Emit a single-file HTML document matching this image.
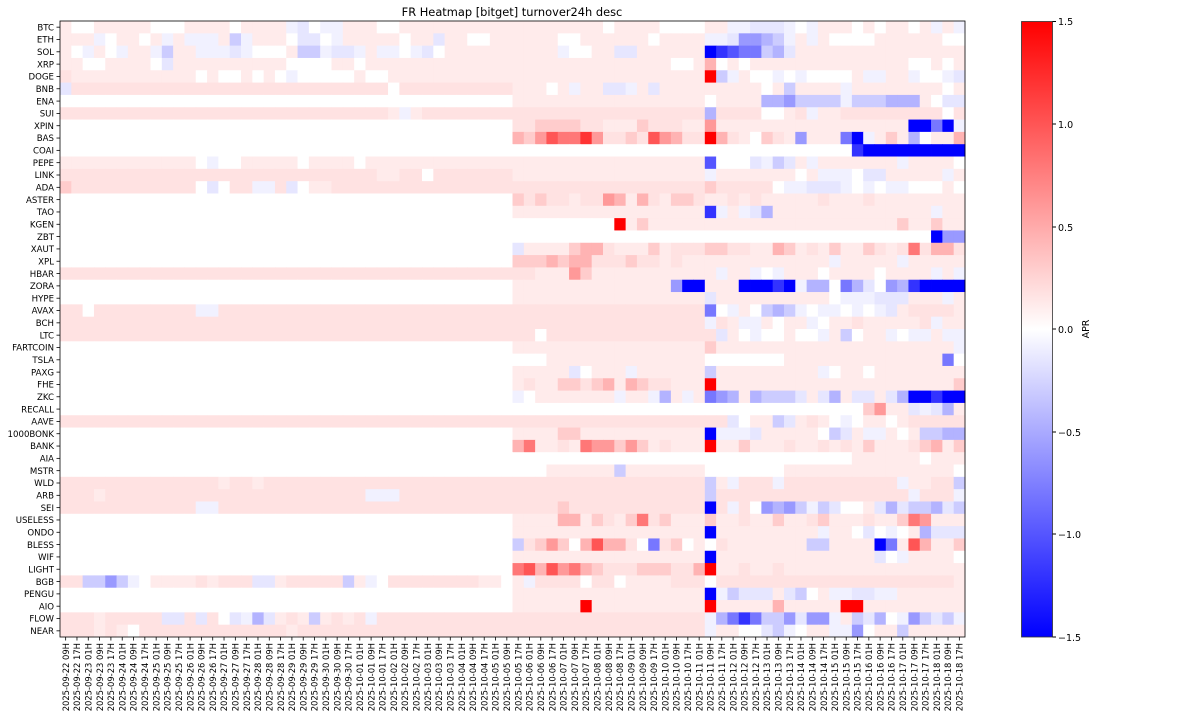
<!DOCTYPE html>
<html><head><meta charset="utf-8">
<style>
html,body{margin:0;padding:0;background:#fff;}
svg{display:block;font-family:"DejaVu Sans","Liberation Sans",sans-serif;}
</style></head>
<body>
<svg id="s" width="1200" height="720" xmlns="http://www.w3.org/2000/svg">
<text x="512" y="16" font-size="11.4" text-anchor="middle">FR Heatmap [bitget] turnover24h desc</text>
<defs>
<linearGradient id="cb" x1="0" y1="0" x2="0" y2="1">
<stop offset="0" stop-color="#ff0000"/><stop offset="0.5" stop-color="#ffffff"/><stop offset="1" stop-color="#0000ff"/>
</linearGradient>
</defs>
<g id="hm"></g>
<rect x="1021.5" y="21.5" width="31" height="615.5" fill="url(#cb)" stroke="#333" stroke-width="0.8"/>
<g font-size="9.5" fill="#000">
<line x1="1052.5" y1="21.5" x2="1056" y2="21.5" stroke="#000"/><text x="1058" y="25">1.5</text>
<line x1="1052.5" y1="124" x2="1056" y2="124" stroke="#000"/><text x="1058" y="128">1.0</text>
<line x1="1052.5" y1="227" x2="1056" y2="227" stroke="#000"/><text x="1058" y="231">0.5</text>
<line x1="1052.5" y1="329" x2="1056" y2="329" stroke="#000"/><text x="1058" y="333">0.0</text>
<line x1="1052.5" y1="432" x2="1056" y2="432" stroke="#000"/><text x="1058" y="436">−0.5</text>
<line x1="1052.5" y1="534" x2="1056" y2="534" stroke="#000"/><text x="1058" y="538">−1.0</text>
<line x1="1052.5" y1="637" x2="1056" y2="637" stroke="#000"/><text x="1058" y="641">−1.5</text>
<text x="1089" y="329" transform="rotate(-90 1089 329)" text-anchor="middle">APR</text>
</g>
</svg>
<script>
var dates=["2025-09-22 09H","2025-09-22 17H",
"2025-09-23 01H","2025-09-23 09H","2025-09-23 17H","2025-09-24 01H","2025-09-24 09H","2025-09-24 17H",
"2025-09-25 01H","2025-09-25 09H","2025-09-25 17H","2025-09-26 01H","2025-09-26 09H","2025-09-26 17H",
"2025-09-27 01H","2025-09-27 09H","2025-09-27 17H","2025-09-28 01H","2025-09-28 09H","2025-09-28 17H",
"2025-09-29 01H","2025-09-29 09H","2025-09-29 17H","2025-09-30 01H","2025-09-30 09H","2025-09-30 17H",
"2025-10-01 01H","2025-10-01 09H","2025-10-01 17H","2025-10-02 01H","2025-10-02 09H","2025-10-02 17H",
"2025-10-03 01H","2025-10-03 09H","2025-10-03 17H","2025-10-04 01H","2025-10-04 09H","2025-10-04 17H",
"2025-10-05 01H","2025-10-05 09H","2025-10-05 17H","2025-10-06 01H","2025-10-06 09H","2025-10-06 17H",
"2025-10-07 01H","2025-10-07 09H","2025-10-07 17H","2025-10-08 01H","2025-10-08 09H","2025-10-08 17H",
"2025-10-09 01H","2025-10-09 09H","2025-10-09 17H","2025-10-10 01H","2025-10-10 09H","2025-10-10 17H",
"2025-10-11 01H","2025-10-11 09H","2025-10-11 17H","2025-10-12 01H","2025-10-12 09H","2025-10-12 17H",
"2025-10-13 01H","2025-10-13 09H","2025-10-13 17H","2025-10-14 01H","2025-10-14 09H","2025-10-14 17H",
"2025-10-15 01H","2025-10-15 09H","2025-10-15 17H","2025-10-16 01H","2025-10-16 09H","2025-10-16 17H",
"2025-10-17 01H","2025-10-17 09H","2025-10-17 17H","2025-10-18 01H","2025-10-18 09H","2025-10-18 17H"];
var rows=[
["BTC","1",{1:"0",2:"0",8:"0",9:"0",10:"0",15:"0",20:"a",21:"b",22:"0",23:"a",24:"a",28:"0",29:"0"},"11111111011110000","11aabbba0a1110101101a1a"],
["ETH","1",{3:"a",4:"0",7:"0",9:"a",11:"a",12:"a",13:"a",15:"c",16:"a",20:"0",21:"b",22:"b",23:"0",24:"a",30:"0",33:"b",36:"0",37:"0"},"11110011111101111","aabeedca1a1000011111100"],
["SOL","1",{1:"0",2:"a",4:"0",5:"a",8:"a",9:"c",12:"a",13:"a",14:"a",15:"b",16:"a",17:"0",18:"0",19:"0",21:"c",22:"c",23:"a",24:"b",25:"b",26:"a",28:"a",29:"a",30:"0",31:"a",32:"b",33:"0"},"1111a0011bb111111","ihgffcdb111111111111111"],
["XRP","1",{2:"0",3:"0",8:"0",9:"b",20:"0",21:"0",22:"0",23:"0",26:"0"},"11111111111111001","40101111111111111100101"],
["DOGE","1",{0:"2",12:"0",14:"0",15:"0",17:"0",19:"0",20:"a",21:"0",22:"0",23:"0",24:"0",25:"0",27:"0",28:"0"},"11111111111111111","9ca100a0a00001aa11a00ab"],
["BNB","2",{0:"b",29:"0"},"11101a11bba1b1111","1111101c1111a1111111101"],
["ENA","0",{},"11111111111111111","01111ddeccccacccddd10bb"],
["SUI","2",{29:"1",30:"a",31:"1"},"22222222222222222","d22220012a1122222222202"],
["XPIN","0",{},"22333322111322211","511111111111111111iifia"],
["BAS","0",{},"43576685223275422","94210321e111fia131d0114"],
["COAI","0",{},"00000000000000000","0000000000000hiiiiiiiii"],
["PEPE","1",{12:"0",13:"a",14:"0",15:"0",21:"0",26:"0"},"11111111111111111","g000bacb1a1111111a11110"],
["LINK","2",{28:"1",29:"1",32:"0"},"11111111111111111","a111111101aaa0bb11111a1"],
["ADA","2",{0:"3",12:"0",13:"b",14:"0",17:"a",18:"a",20:"b",21:"0",22:"1",23:"1"},"22222222222222222","3222220aabbba0a0aa00010"],
["ASTER","0",{},"32322122541421332","11212111112111211111111"],
["TAO","0",{},"11111111111111111","ha1abd11111111111111a11"],
["KGEN","0",{},"00000000091311111","11111111111111111311311"],
["ZBT","0",{},"00000000000000000","00000000000000000000iee"],
["XAUT","0",{},"b1111344211131222","33221143121311321262442"],
["XPL","0",{},"33343442223221211","11111111111a11111a11111"],
["HBAR","2",{},"22111531111111111","1a11a0a1110111101111a1a"],
["ZORA","0",{},"11111111111111eii","111iiihiadd0fdb0edhiiii"],
["HYPE","0",{},"11111111111111111","b11111111110aaabbb111a1"],
["AVAX","2",{2:"0",12:"a",13:"a"},"22222222222222222","f0a10cdca0aa0a0ab122221"],
["BCH","2",{},"22222222222222222","a21aa1011a0112111112a11"],
["LTC","2",{},"22022222222222222","2b10a00100a1c011a0aa1aa"],
["FARTCOIN","0",{},"11111111111111111","3111111111111111111111a"],
["TSLA","0",{},"00011111111111111","000000011111111111111f0"],
["PAXG","0",{},"11111b0111a111111","c111111111a011011111111"],
["FHE","0",{},"12113323414322111","91111111111111111111113"],
["ZKC","0",{},"a01111111a11ad1a1","fed1dcccb1bd1bb1bdiihii"],
["RECALL","0",{},"00000000000000000","000000000000003511babd1"],
["AAVE","2",{},"22222222222222222","22b011cb1210a0110122222"],
["1000BONK","0",{},"11113311111111111","iaaab111110cb1aa101ccdd"],
["BANK","0",{},"46112165535312111","91131112112121311123413"],
["AIA","0",{},"00000000000000000","00000000000001111110111"],
["MSTR","0",{},"000111111c1111111","00000001111111111111110"],
["WLD","2",{14:"1",17:"1"},"22222222222222222","c1a222a2222222222a1122c"],
["ARB","2",{3:"1",27:"a",28:"a",29:"a"},"22222222222222222","c22222222222222222a222a"],
["SEI","2",{12:"a",13:"a"},"22223222222222222","i2a20edecacb001bdbccdbc"],
["USELESS","0",{},"11114413213623111","31121131123111211365111"],
["ONDO","0",{},"11111111111111111","i111111111a110b0a01dbbb"],
["BLESS","0",{},"c23530474420f2301","021111111cc1111if174113"],
["WIF","0",{},"11111111111111111","i11111111111111b0a11110b"],
["LIGHT","0",{},"67475643222333224","91121121111111111111111"],
["BGB","2",{2:"c",3:"c",4:"e",5:"c",6:"a",7:"0",8:"1",9:"1",10:"1",11:"1",13:"1",17:"b",18:"b",19:"1",25:"c",26:"1",27:"a",28:"0",37:"1",38:"1",39:"0"},"1a22220220111122211","02222222222222222222221"],
["PENGU","0",{},"11111111111111111","iacbbb1bc01aabbaa111111"],
["AIO","0",{},"11111191111111111","91111141111199111111111"],
["FLOW","2",{3:"1",9:"b",10:"b",12:"b",14:"0",15:"b",16:"a",17:"d",18:"b",19:"1",21:"1",22:"c",23:"1",25:"1",27:"a"},"22222222222222222","adfhfcceb eea1cbd0aecbca"],
["NEAR","2",{3:"1",5:"1",6:"0",20:"1"},"22222222222222222","a1100bca011aae011c11111"]
];
var V={"0":0,"1":0.12,"2":0.17,"3":0.3,"4":0.45,"5":0.6,"6":0.8,"7":1.0,"8":1.2,"9":1.5,
"a":-0.08,"b":-0.15,"c":-0.3,"d":-0.45,"e":-0.6,"f":-0.8,"g":-1.0,"h":-1.2,"i":-1.5," ":0};
function col(v){var t=(Math.max(-1.5,Math.min(1.5,v))+1.5)/3,r,g,b;
 if(t<0.5){r=g=2*t;b=1;}else{r=1;g=b=2*(1-t);}
 return "rgb("+Math.round(r*255)+","+Math.round(g*255)+","+Math.round(b*255)+")";}
var hm=document.getElementById("hm");
var X0=60,X1=965,Y0=21,Y1=637,CW=(X1-X0)/80,RH=(Y1-Y0)/50;
var html="";
rows.forEach(function(r,ri){
 var s="";for(var c=0;c<40;c++){s+=(r[2][c]!==undefined)?r[2][c]:r[1];}
 var A=(r[3].replace(/ /g,"")+"11111111111111111").substring(0,17);
 var B=r[4].replace(/ /g,"");B=(B+"11111111111111111111111").substring(0,23);
 s+=A+B;
 for(var c=0;c<80;c++){
  var v=V[s[c]];if(v===undefined)v=0;
  var x=X0+c*CW,y=Y0+ri*RH;
  html+='<rect x="'+x.toFixed(2)+'" y="'+y.toFixed(2)+'" width="'+(CW+0.4).toFixed(2)+'" height="'+(RH+0.4).toFixed(2)+'" fill="'+col(v)+'"/>';
 }
 var yc=Y0+(ri+0.5)*RH;
 html+='<line x1="'+(X0-3.5)+'" y1="'+yc+'" x2="'+X0+'" y2="'+yc+'" stroke="#000" stroke-width="0.8"/>';
 html+='<text x="'+(X0-6)+'" y="'+(yc+3.2)+'" font-size="8.6" text-anchor="end">'+r[0]+'</text>';
});
dates.forEach(function(d,c){
 var xc=X0+(c+0.5)*CW;
 html+='<line x1="'+xc+'" y1="'+Y1+'" x2="'+xc+'" y2="'+(Y1+3.5)+'" stroke="#000" stroke-width="0.8"/>';
 html+='<text x="'+(xc+3.2)+'" y="'+(Y1+6)+'" font-size="8.4" text-anchor="end" transform="rotate(-90 '+(xc+3.2)+' '+(Y1+6)+')">'+d+'</text>';
});
html+='<rect x="'+X0+'" y="'+Y0+'" width="'+(X1-X0)+'" height="'+(Y1-Y0)+'" fill="none" stroke="#000" stroke-width="0.8"/>';
hm.innerHTML=html;
</script>
</body></html>
